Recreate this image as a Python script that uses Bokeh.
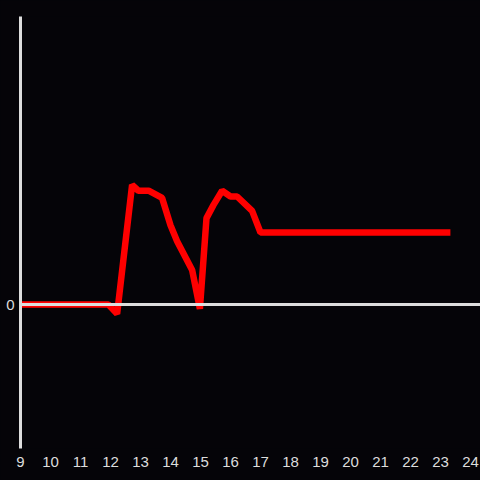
from bokeh.plotting import figure
from bokeh.models import Span, FixedTicker, Range1d
from bokeh.embed import file_html
from bokeh.resources import INLINE

hours = [9.0, 11.93, 12.22, 12.72, 12.93, 13.27, 13.72, 14.0, 14.22, 14.72, 14.98,
         15.2, 15.43, 15.72, 16.0, 16.22, 16.72, 17.0, 23.33]
values = [0.0, 0.0, -0.065, 0.83, 0.79, 0.79, 0.74, 0.55, 0.44, 0.24, -0.03,
          0.6, 0.69, 0.79, 0.75, 0.75, 0.65, 0.5, 0.5]
x_ticks = list(range(9, 25))
y_ticks = [0]

BG = "#050408"
FG = "#dddddd"

p = figure(width=480, height=480, output_backend="svg", toolbar_location=None,
           x_range=Range1d(9, 24.333), y_range=Range1d(-1, 2),
           min_border_left=20, min_border_right=0, min_border_top=16, min_border_bottom=32)
p.styles = {"background-color": BG}
p.background_fill_color = BG
p.border_fill_color = BG
p.outline_line_color = None
p.grid.visible = False

p.xaxis.ticker = FixedTicker(ticks=x_ticks)
p.xaxis.axis_line_color = None
p.xaxis.major_tick_line_color = None
p.xaxis.minor_tick_line_color = None
p.xaxis.major_label_text_color = FG
p.xaxis.major_label_text_font = "Liberation Sans"
p.xaxis.major_label_text_font_size = "15px"
p.xaxis.major_label_standoff = 2

p.yaxis.ticker = FixedTicker(ticks=y_ticks)
p.yaxis.axis_line_color = FG
p.yaxis.axis_line_width = 3
p.yaxis.major_tick_line_color = None
p.yaxis.minor_tick_line_color = None
p.yaxis.major_label_text_color = FG
p.yaxis.major_label_text_font = "Liberation Sans"
p.yaxis.major_label_text_font_size = "15px"
p.yaxis.major_label_standoff = 0

p.add_layout(Span(location=0, dimension="width", line_color=FG, line_width=3))
p.line(hours, values, line_color="#ff0000", line_width=6.5)

html = file_html(p, INLINE)
html = html.replace("<body>", '<body style="margin:0;background:%s">' % BG, 1)
open("out.html", "w").write(html)
